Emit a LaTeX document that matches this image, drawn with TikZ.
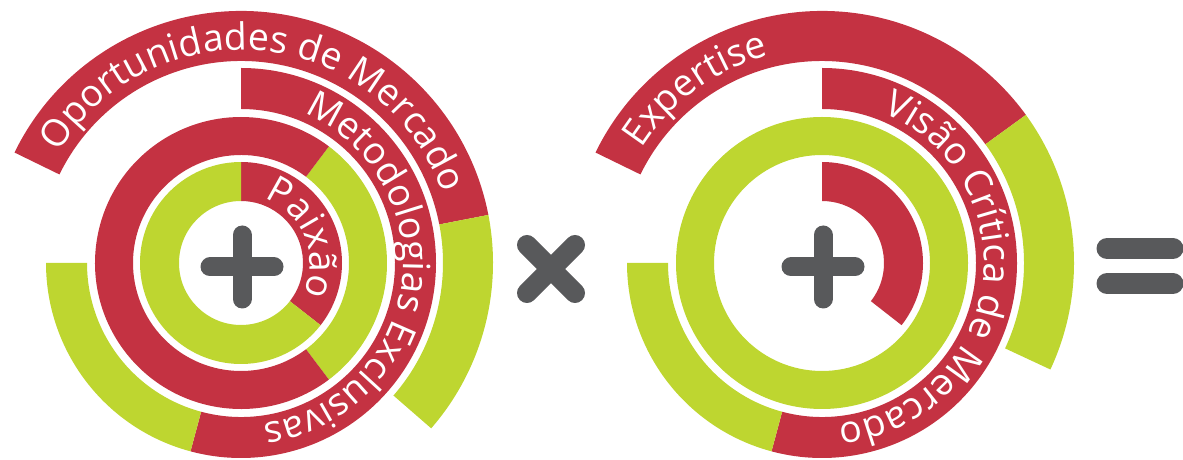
\documentclass[tikz,border=0pt]{standalone}
\usepackage{fontspec}
\setmainfont{Open Sans}
\usetikzlibrary{calc,decorations.text}

\definecolor{ringred}{HTML}{C43242}
\definecolor{ringgreen}{HTML}{BED630}
\definecolor{signgray}{HTML}{58595B}

% annular sector: #1 centre, #2 inner radius, #3 outer radius,
% #4 start angle, #5 end angle, #6 fill colour
\newcommand{\annseg}[6]{%
  \fill[#6] ($(#1)+(#4:#3)$) arc[start angle=#4, end angle=#5, radius=#3]
    -- ($(#1)+(#5:#2)$) arc[start angle=#5, end angle=#4, radius=#2] -- cycle;}

% white label set along an arc, centred on the arc
\newcommand{\lblfont}{\color{white}\fontsize{37.5}{42}\selectfont}
\newcommand{\arclabel}[5]{%
  \path[decorate, decoration={text along path, text align=center,
      text={|\lblfont|#5}}]
    ($(#1)+(#3:#2)$) arc[start angle=#3, end angle=#4, radius=#2];}

\tikzset{
  signbar/.style={draw=signgray, line width=19pt, line cap=round},
  signbarwide/.style={draw=signgray, line width=21pt, line cap=round}
}

\begin{document}
\begin{tikzpicture}[x=1pt, y=1pt]
\useasboundingbox (0,0) rectangle (1183,460);

\coordinate (L) at (241,197);
\coordinate (R) at (822,197);

% ---- left wheel ----
\annseg{L}{62}{101}{90}{-38}{ringred}
\annseg{L}{62}{101}{-38}{-270}{ringgreen}
\annseg{L}{108}{146}{53}{-53}{ringgreen}
\annseg{L}{108}{146}{-53}{-307}{ringred}
\annseg{L}{154}{195}{90}{-105}{ringred}
\annseg{L}{154}{195}{-105}{-180}{ringgreen}
\annseg{L}{202}{252}{154}{11}{ringred}
\annseg{L}{202}{252}{11}{-41}{ringgreen}

\arclabel{L}{213}{164}{4}{Oportunidades de Mercado}
\arclabel{L}{162}{82.5}{-97.5}{Metodologias Exclusivas}
\arclabel{L}{69}{92}{-48}{Paixão}

% ---- right wheel ----
\annseg{R}{62}{101}{90}{-38}{ringred}
\annseg{R}{108}{146}{0}{360}{ringgreen}
\annseg{R}{154}{195}{90}{-105}{ringred}
\annseg{R}{154}{195}{-105}{-180}{ringgreen}
\annseg{R}{202}{252}{154}{36}{ringred}
\annseg{R}{202}{252}{36}{-25}{ringgreen}

\arclabel{R}{214}{166}{86}{Expertise}
\arclabel{R}{162}{82}{-98}{Visão Crítica de Mercado}

% ---- operators ----
\coordinate (plusL) at (242,193);
\coordinate (plusR) at (823,193);
\coordinate (times) at (551,191);
\coordinate (equals) at (1140,194);

\draw[signbar] ($(plusL)+(-32,0)$) -- ($(plusL)+(32,0)$);
\draw[signbar] ($(plusL)+(0,-32)$) -- ($(plusL)+(0,32)$);
\draw[signbar] ($(plusR)+(-32,0)$) -- ($(plusR)+(32,0)$);
\draw[signbar] ($(plusR)+(0,-32)$) -- ($(plusR)+(0,32)$);

\draw[signbar, line width=20pt] ($(times)+(-24,-24)$) -- ($(times)+(24,24)$);
\draw[signbar, line width=20pt] ($(times)+(-24,24)$) -- ($(times)+(24,-24)$);

\draw[signbarwide] ($(equals)+(-33,17.5)$) -- ($(equals)+(33,17.5)$);
\draw[signbarwide] ($(equals)+(-33,-17.5)$) -- ($(equals)+(33,-17.5)$);
\end{tikzpicture}
\end{document}
